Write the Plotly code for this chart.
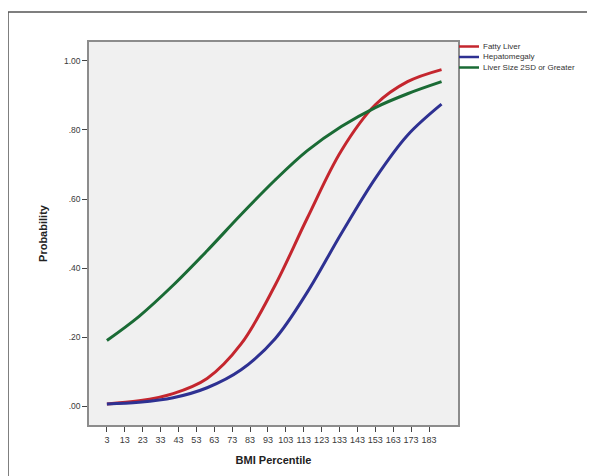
import plotly.graph_objects as go

# ---- data ----
bmi_pct = [3, 21, 40, 59, 78, 97, 115, 134, 153, 171, 190]
fatty_liver = [0.006, 0.015, 0.036, 0.08, 0.18, 0.35, 0.545, 0.74, 0.873, 0.94, 0.975]
hepatomegaly = [0.006, 0.011, 0.024, 0.053, 0.105, 0.195, 0.33, 0.50, 0.66, 0.785, 0.875]
liver_2sd = [0.19, 0.26, 0.35, 0.45, 0.555, 0.655, 0.74, 0.81, 0.865, 0.905, 0.94]

series_names = ["Fatty Liver", "Hepatomegaly", "Liver Size 2SD or Greater"]
series_colors = ["#c4262e", "#2e3192", "#1a6b35"]

x_tickvals = list(range(3, 184, 10))
x_ticktext = [str(v) for v in x_tickvals]
y_tickvals = [0, 0.2, 0.4, 0.6, 0.8, 1.0]
y_ticktext = [".00", ".20", ".40", ".60", ".80", "1.00"]

FONT = "Liberation Sans, Arial, sans-serif"

fig = go.Figure()
for ys, name, col in zip([fatty_liver, hepatomegaly, liver_2sd], series_names, series_colors):
    fig.add_trace(go.Scatter(
        x=bmi_pct, y=ys, mode="lines", name=name,
        line=dict(color=col, width=3, shape="spline", smoothing=1.0),
        showlegend=False,
    ))

# page has an 8px body margin: figure pixel = page pixel - 8
OFF = 8
W, H = 595 - OFF, 476 - OFF
L, R, T, B = 89 - OFF, 458 - OFF, 42 - OFF, 425 - OFF
pw, ph = R - L, B - T

def px(xp):
    return (xp - OFF - L) / pw

def py(yp):
    return (B - (yp - OFF)) / ph

shapes = [
    # outer frame (extends past the page edges on right and bottom)
    dict(type="rect", xref="paper", yref="paper",
         x0=px(8), x1=px(600), y0=py(490), y1=py(12),
         line=dict(color="#555555", width=1.5), fillcolor="rgba(0,0,0,0)", layer="below"),
]
annotations = []
legend_y = [46.5, 57, 67.5]
for name, col, yy in zip(series_names, series_colors, legend_y):
    shapes.append(dict(type="line", xref="paper", yref="paper",
                       x0=px(459), x1=px(479), y0=py(yy), y1=py(yy),
                       line=dict(color=col, width=2.5)))
    annotations.append(dict(xref="paper", yref="paper", x=px(481), y=py(yy),
                            text=name, showarrow=False, xanchor="left", yanchor="middle",
                            font=dict(family=FONT, size=8, color="#333333")))

fig.update_layout(
    width=W, height=H,
    margin=dict(l=L, r=W - R, t=T, b=H - B, pad=0),
    paper_bgcolor="white",
    plot_bgcolor="#f0f0f0",
    font=dict(family=FONT, size=8, color="#444444"),
    shapes=shapes,
    annotations=annotations,
    showlegend=False,
    xaxis=dict(
        range=[-7, 199.2], tickmode="array", tickvals=x_tickvals, ticktext=x_ticktext,
        ticks="outside", ticklen=5, tickcolor="#444444", tickwidth=1,
        showgrid=False, zeroline=False, showline=True, mirror=True,
        linecolor="#8c8c8c", linewidth=1.5,
        tickfont=dict(family=FONT, size=9, color="#3a3a3a"),
        title=dict(text="<b>BMI Percentile</b>", standoff=13,
                   font=dict(family=FONT, size=11, color="#222222")),
    ),
    yaxis=dict(
        range=[-0.055, 1.055], tickmode="array", tickvals=y_tickvals, ticktext=y_ticktext,
        ticks="outside", ticklen=5, tickcolor="#444444", tickwidth=1,
        showgrid=False, zeroline=False, showline=True, mirror=True,
        linecolor="#8c8c8c", linewidth=1.5,
        tickfont=dict(family=FONT, size=8.5, color="#3a3a3a"),
        title=dict(text="<b>Probability</b>", standoff=14,
                   font=dict(family=FONT, size=11, color="#222222")),
    ),
)

fig.write_html("out.html")
